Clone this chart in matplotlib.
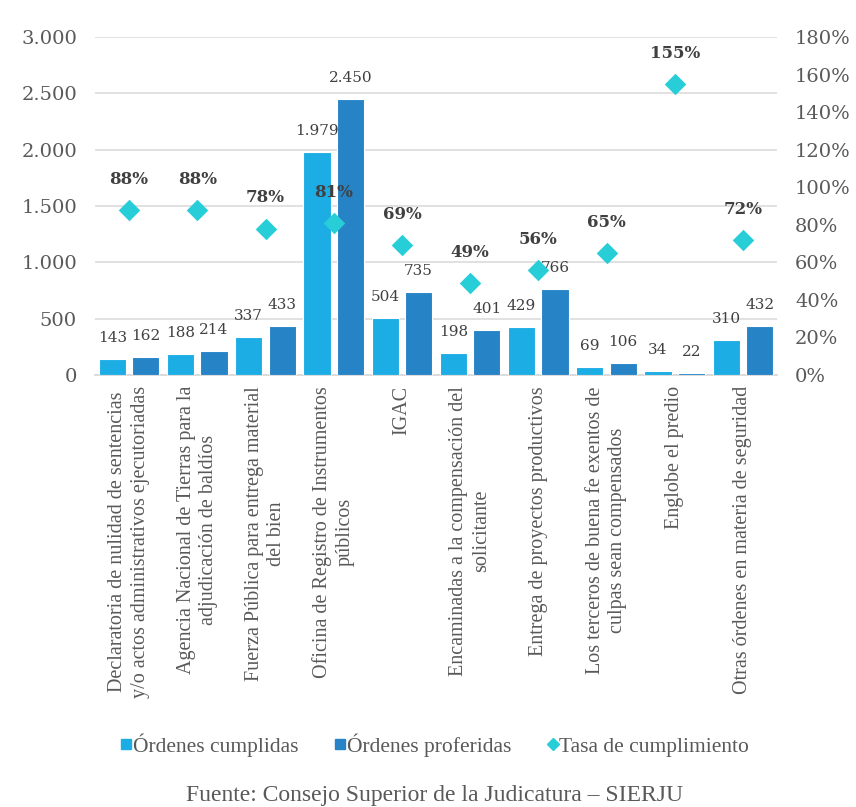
import matplotlib
matplotlib.use("Agg")
import matplotlib.pyplot as plt
from matplotlib.lines import Line2D
from matplotlib.ticker import FuncFormatter, MultipleLocator

categorias = [
    "Declaratoria de nulidad de sentencias\ny/o actos administrativos ejecutoriadas",
    "Agencia Nacional de Tierras para la\nadjudicación de baldíos",
    "Fuerza Pública para entrega material\ndel bien",
    "Oficina de Registro de Instrumentos\npúblicos",
    "IGAC",
    "Encaminadas a la compensación del\nsolicitante",
    "Entrega de proyectos productivos",
    "Los terceros de buena fe exentos de\nculpas sean compensados",
    "Englobe el predio",
    "Otras órdenes en materia de seguridad",
]
ordenes_cumplidas = [143, 188, 337, 1979, 504, 198, 429, 69, 34, 310]
ordenes_proferidas = [162, 214, 433, 2450, 735, 401, 766, 106, 22, 432]
tasa_cumplimiento = [88, 88, 78, 81, 69, 49, 56, 65, 155, 72]
fuente = "Fuente: Consejo Superior de la Judicatura – SIERJU"

C_CUMP = "#1CADE4"
C_PROF = "#2683C6"
C_TASA = "#27CED7"
TXT = "#404040"
TICK = "#595959"
GRID = "#D9D9D9"
NUMF = "DejaVu Serif"
TXTF = "Liberation Serif"

def miles(v, pos=None):
    return f"{int(round(v)):,}".replace(",", ".")

fig = plt.figure(figsize=(8.56, 8.07), dpi=100)
ax = fig.add_axes([95/856, 1-375/807, (777-95)/856, (375-37)/807])
ax2 = ax.twinx()

x = list(range(len(categorias)))
w = 0.40
off = 0.245
xc = [i - off for i in x]
xp = [i + off for i in x]
ax.bar(xc, ordenes_cumplidas, width=w, color=C_CUMP, edgecolor="white", linewidth=0.8, zorder=3)
ax.bar(xp, ordenes_proferidas, width=w, color=C_PROF, edgecolor="white", linewidth=0.8, zorder=3)

ax.set_xlim(-0.5, len(categorias) - 0.5)
ax.set_ylim(0, 3000)
ax.yaxis.set_major_locator(MultipleLocator(500))
ax.yaxis.set_major_formatter(FuncFormatter(miles))
ax.grid(axis="y", color=GRID, linewidth=1.1, zorder=0)
ax.set_axisbelow(True)

for xs, vals in ((xc, ordenes_cumplidas), (xp, ordenes_proferidas)):
    for xi, v in zip(xs, vals):
        ax.annotate(miles(v), (xi, v), xytext=(0, 15), textcoords="offset points",
                    ha="center", va="center", fontsize=11, family=NUMF, color=TXT, zorder=5)

ax2.set_ylim(0, 180)
ax2.yaxis.set_major_locator(MultipleLocator(20))
ax2.yaxis.set_major_formatter(FuncFormatter(lambda v, p: f"{int(round(v))}%"))
ax2.scatter(x, tasa_cumplimiento, marker="D", s=120, color=C_TASA, zorder=6, linewidths=0)
for xi, v in zip(x, tasa_cumplimiento):
    ax2.annotate(f"{v}%", (xi, v), xytext=(0, 22), textcoords="offset points",
                 ha="center", va="center", fontsize=12, family=NUMF, fontweight="bold",
                 color=TXT, zorder=7)

for a in (ax, ax2):
    for s in ("top", "left", "right", "bottom"):
        a.spines[s].set_visible(False)
    a.tick_params(axis="y", length=0, pad=13, labelsize=14, labelcolor=TICK)
    for lab in a.get_yticklabels():
        lab.set_family(NUMF)
ax.spines["bottom"].set_visible(True)
ax.spines["bottom"].set_color(GRID)
ax.spines["bottom"].set_linewidth(1.3)

ax.set_xticks(x)
ax.set_xticklabels(categorias, rotation=90, ha="center", va="top", multialignment="center",
                   fontsize=14.5, family=TXTF, color=TICK, linespacing=1.25)
ax.tick_params(axis="x", length=0, pad=8)
ax2.set_zorder(ax.get_zorder() + 1)
ax2.patch.set_visible(False)

handles = [
    Line2D([], [], linestyle="none", marker="s", markersize=7, color=C_CUMP),
    Line2D([], [], linestyle="none", marker="s", markersize=7, color=C_PROF),
    Line2D([], [], linestyle="none", marker="D", markersize=6, color=C_TASA),
]
labels = ["Órdenes cumplidas", "Órdenes proferidas", "Tasa de cumplimiento"]
fig.legend(handles, labels, loc="center", bbox_to_anchor=(435/856, 1-745/807), ncol=3,
           frameon=False, handlelength=0.5, handletextpad=0.05, columnspacing=1.7,
           prop={"family": TXTF, "size": 15.5}, labelcolor=TICK)

fig.text(435/856, 1-796/807, fuente, ha="center", va="center", fontsize=17,
         family=TXTF, color=TICK)

fig.savefig("out.png", dpi=100, facecolor="white")
